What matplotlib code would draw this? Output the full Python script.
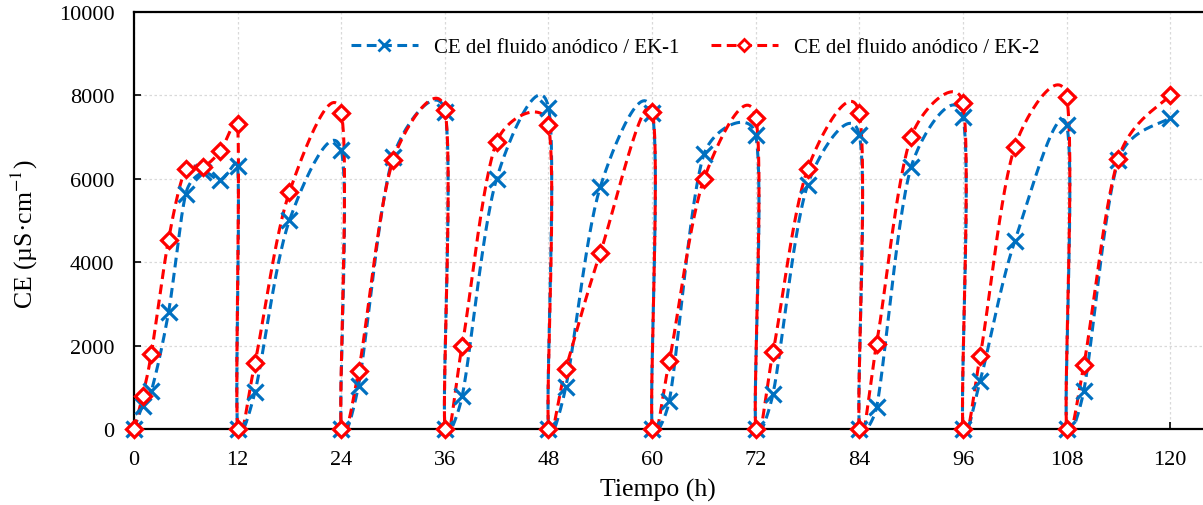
import numpy as np
import matplotlib
matplotlib.use("Agg")
import matplotlib.pyplot as plt
from matplotlib.lines import Line2D

# Datos (tiempo en h, CE en µS/cm)
tiempo = [0, 1, 2, 4, 6, 8, 10, 12, 12, 14, 18, 24, 24, 26, 30, 36, 36, 38, 42, 48, 48, 50, 54,
          60, 60, 62, 66, 72, 72, 74, 78, 84, 84, 86, 90, 96, 96, 98, 102, 108, 108, 110, 114, 120]
ce_ek1 = [0, 560, 900, 2800, 5640, 6150, 5960, 6300, 0, 880, 5000, 6680, 0, 1040, 6520, 7600, 0, 780,
          6000, 7700, 0, 1000, 5800, 7580, 0, 680, 6580, 7040, 0, 840, 5840, 7040, 0, 520, 6280, 7480,
          0, 1160, 4500, 7280, 0, 920, 6440, 7460]
ce_ek2 = [0, 800, 1800, 4540, 6240, 6280, 6660, 7300, 0, 1580, 5680, 7560, 0, 1380, 6440, 7640, 0, 2000,
          6880, 7280, 0, 1440, 4220, 7600, 0, 1640, 5980, 7460, 0, 1840, 6220, 7560, 0, 2040, 7000, 7800,
          0, 1760, 6760, 7960, 0, 1540, 6480, 8000]
x_ticks = list(range(0, 121, 12))
y_ticks = list(range(0, 10001, 2000))
labels = ["CE del fluido anódico / EK-1", "CE del fluido anódico / EK-2"]

plt.rcParams['font.family'] = ['Liberation Serif', 'DejaVu Serif']
plt.rcParams['mathtext.fontset'] = 'stix'

W, H, DPI = 12.03, 5.06, 100
x_max = 123.8
pos = [0.1114, 0.1502, 0.8886, 0.8248]


def suavizar(xs, ys, sx, sy, n=30):
    """Curva suavizada como en Excel (Bezier 1/6, limitada a la mitad del tramo)"""
    P = np.column_stack([np.asarray(xs, float) * sx, np.asarray(ys, float) * sy])
    t = np.linspace(0, 1, n)[1:, None]
    pts = [P[:1]]
    for i in range(len(P) - 1):
        p0 = P[i - 1] if i > 0 else P[i]
        p1, p2 = P[i], P[i + 1]
        p3 = P[i + 2] if i + 2 < len(P) else P[i + 1]
        d12 = np.hypot(*(p2 - p1))
        d02 = np.hypot(*(p2 - p0))
        d13 = np.hypot(*(p3 - p1))
        f0 = 1 / 6 if d02 / 6 < d12 / 2 else d12 / d02 / 2
        f3 = 1 / 6 if d13 / 6 < d12 / 2 else d12 / d13 / 2
        c1 = p1 + (p2 - p0) * f0
        c2 = p2 - (p3 - p1) * f3
        seg = (1 - t) ** 3 * p1 + 3 * (1 - t) ** 2 * t * c1 + 3 * (1 - t) * t ** 2 * c2 + t ** 3 * p2
        pts.append(seg)
    pts = np.vstack(pts)
    return pts[:, 0] / sx, pts[:, 1] / sy


fig = plt.figure(figsize=(W, H), dpi=DPI)
ax = fig.add_axes(pos)
sx = pos[2] * W * DPI / x_max
sy = pos[3] * H * DPI / 10000

azul, rojo = '#0070C0', '#FF0000'
estilos = [(ce_ek1, azul, 'x', 11.5, 'none'), (ce_ek2, rojo, 'D', 8, 'white')]
handles = []
for (ce, col, mk, ms, fc), lab in zip(estilos, labels):
    xs, ys = suavizar(tiempo, ce, sx, sy)
    ax.plot(xs, ys, color=col, lw=2.2, dashes=(3.2, 1.8))
    ax.plot(tiempo, ce, ls='none', marker=mk, ms=ms, mew=2.3, mec=col, mfc=fc, clip_on=False, zorder=3)
    handles.append(Line2D([], [], color=col, lw=2.2, dashes=(3.2, 1.8), marker=mk, ms=ms * 0.75,
                          mew=2.0, mec=col, mfc=fc))

ax.set_xlim(0, x_max)
ax.set_ylim(0, 10000)
ax.set_xticks(x_ticks)
ax.set_yticks(y_ticks)
ax.grid(True, color='#d9d9d9', ls=(0, (2, 2)), lw=0.9)
ax.set_axisbelow(True)
for s in ['left', 'bottom', 'top']:
    ax.spines[s].set_linewidth(1.6)
ax.spines['right'].set_visible(False)
ax.tick_params(axis='both', direction='in', length=5, width=1.2, labelsize=16)
ax.tick_params(axis='x', pad=15)
ax.tick_params(axis='y', pad=14)
ax.set_xlabel("Tiempo (h)", fontsize=18.5)
ax.set_ylabel(r"CE (µS·cm$^{-1}$)", fontsize=18.5)
ax.xaxis.set_label_coords((658 - 134) / (pos[2] * W * DPI), -(490 - 430) / (pos[3] * H * DPI))
ax.yaxis.set_label_coords(-(134 - 24) / (pos[2] * W * DPI), (430 - 234) / (pos[3] * H * DPI))
ax.xaxis.label.set_va('center')
ax.yaxis.label.set_va('center')

fig.legend(handles, labels, loc='center', bbox_to_anchor=(0.578, 0.905), ncol=2, frameon=False,
           fontsize=15, handlelength=3.2, columnspacing=1.5, handletextpad=0.8)

plt.savefig("out.png", dpi=DPI)
